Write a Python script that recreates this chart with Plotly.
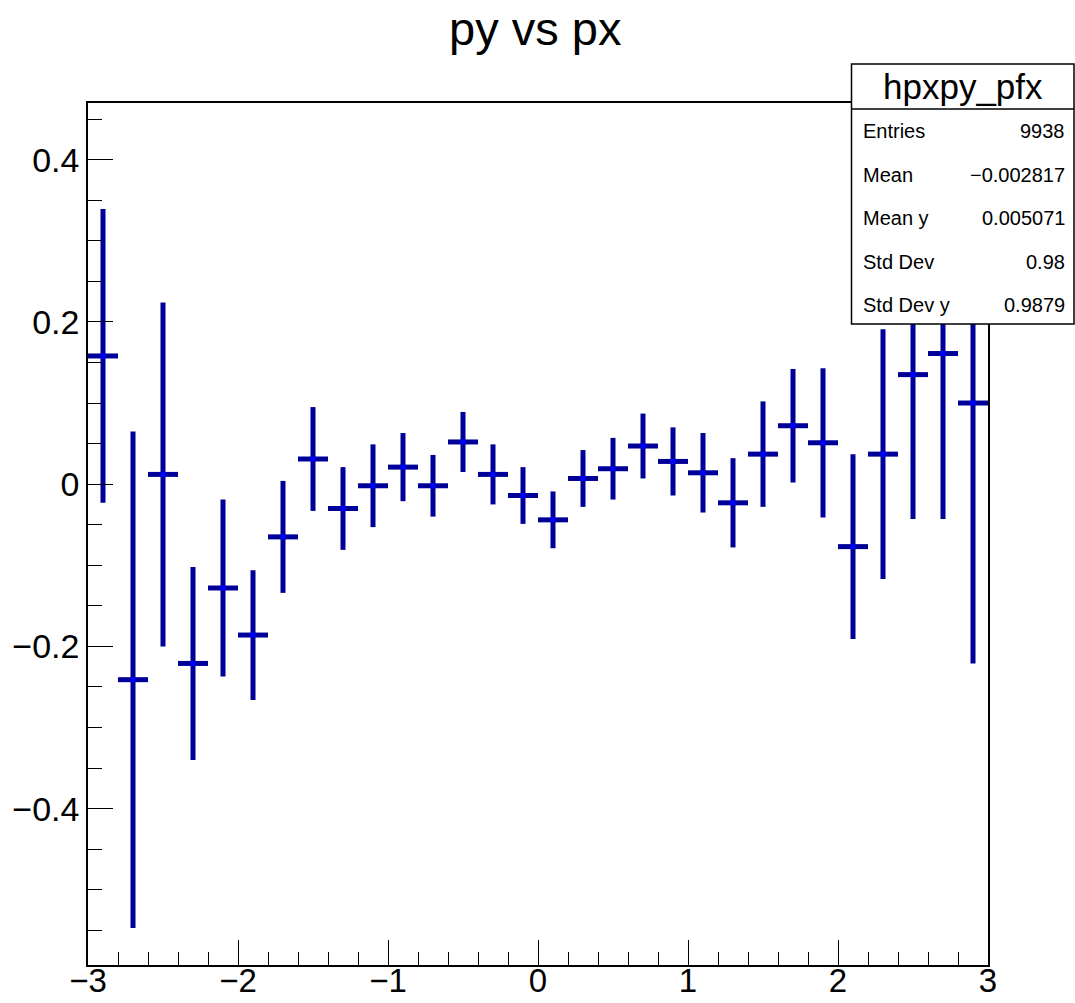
import plotly.graph_objects as go

# Profile of py vs px: 30 bins of width 0.2 over [-3, 3]
bin_centers = [-2.9, -2.7, -2.5, -2.3, -2.1, -1.9, -1.7, -1.5, -1.3, -1.1,
               -0.9, -0.7, -0.5, -0.3, -0.1, 0.1, 0.3, 0.5, 0.7, 0.9,
               1.1, 1.3, 1.5, 1.7, 1.9, 2.1, 2.3, 2.5, 2.7, 2.9]
mean_py = [0.158, -0.241, 0.012, -0.221, -0.128, -0.186, -0.065, 0.031, -0.030, -0.002,
           0.021, -0.002, 0.052, 0.012, -0.014, -0.044, 0.007, 0.019, 0.047, 0.028,
           0.014, -0.023, 0.037, 0.072, 0.051, -0.077, 0.037, 0.135, 0.161, 0.100]
err_py = [0.181, 0.306, 0.212, 0.119, 0.109, 0.080, 0.069, 0.064, 0.051, 0.051,
          0.042, 0.038, 0.037, 0.037, 0.035, 0.035, 0.035, 0.038, 0.040, 0.042,
          0.049, 0.055, 0.065, 0.070, 0.092, 0.114, 0.154, 0.178, 0.204, 0.321]
bin_half_width = 0.1

hist_name = "hpxpy_pfx"
stat_names = ["Entries", "Mean", "Mean y", "Std Dev", "Std Dev y"]
stat_values = ["9938", "\u22120.002817", "0.005071", "0.98", "0.9879"]

W, H = 1075, 1003
L, R, T, B = 88, 988, 103, 965  # frame edges in pixels
FONT = "Liberation Sans, Arial, Helvetica, sans-serif"


def px(xp):
    return (xp - L) / (R - L)


def py(yp):
    return (B - yp) / (B - T)


fig = go.Figure()
fig.add_trace(go.Scatter(
    x=bin_centers,
    y=mean_py,
    mode="markers",
    marker=dict(color="#0000ff", size=5, symbol="square"),
    error_y=dict(type="data", array=err_py, visible=True,
                 color="#000099", thickness=5, width=0),
    error_x=dict(type="constant", value=bin_half_width, visible=True,
                 color="#000099", thickness=5, width=0),
    showlegend=False,
    hoverinfo="x+y",
))

axis_common = dict(
    showgrid=False, zeroline=False, automargin=False,
    showline=True, linecolor="black", linewidth=1.5, mirror=True,
    ticks="inside", ticklen=25, tickwidth=1.2, tickcolor="black",
    tickfont=dict(family=FONT, size=34, color="black"),
)

fig.update_xaxes(range=[-3, 3], tickmode="linear", tick0=-3, dtick=1,
                 minor=dict(ticks="inside", ticklen=13, dtick=0.2, tick0=-3,
                            tickcolor="black", tickwidth=1.2),
                 **axis_common)
fig.update_xaxes(ticklabelstandoff=-14, tickfont=dict(family=FONT, size=33, color="black"))
fig.update_yaxes(range=[-0.5927, 0.4698], tickmode="linear", tick0=0, dtick=0.2,
                 minor=dict(ticks="inside", ticklen=14, dtick=0.05, tick0=0,
                            tickcolor="black", tickwidth=1.2),
                 **axis_common)

# Statistics box
box_l, box_r, box_t, box_sep, box_b = 851.5, 1074, 64, 109, 324
shapes = [
    dict(type="rect", xref="paper", yref="paper",
         x0=px(box_l), x1=px(box_r), y0=py(box_b), y1=py(box_t),
         line=dict(color="black", width=1.5), fillcolor="white", layer="above"),
    dict(type="line", xref="paper", yref="paper",
         x0=px(box_l), x1=px(box_r), y0=py(box_sep), y1=py(box_sep),
         line=dict(color="black", width=1.5), layer="above"),
]

annotations = [
    dict(text="py vs px", xref="paper", yref="paper", x=px(535), y=py(29),
         xanchor="center", yanchor="middle", showarrow=False,
         font=dict(family=FONT, size=47, color="black")),
    dict(text=hist_name, xref="paper", yref="paper", x=px((box_l + box_r) / 2),
         y=py(87), xanchor="center", yanchor="middle", showarrow=False,
         font=dict(family=FONT, size=35, color="black")),
]
row_y = [131, 174.5, 218, 261.5, 305]
for name, val, yy in zip(stat_names, stat_values, row_y):
    annotations.append(dict(text=name, xref="paper", yref="paper", x=px(861), y=py(yy),
                            xanchor="left", yanchor="middle", showarrow=False,
                            font=dict(family=FONT, size=20, color="black")))
    annotations.append(dict(text=val, xref="paper", yref="paper", x=px(1067), y=py(yy),
                            xanchor="right", yanchor="middle", showarrow=False,
                            font=dict(family=FONT, size=20, color="black")))

fig.update_layout(
    width=W, height=H,
    margin=dict(l=L, r=W - R, t=T, b=H - B, pad=0),
    paper_bgcolor="white", plot_bgcolor="white",
    shapes=shapes, annotations=annotations,
)

fig.write_html("out.html")
